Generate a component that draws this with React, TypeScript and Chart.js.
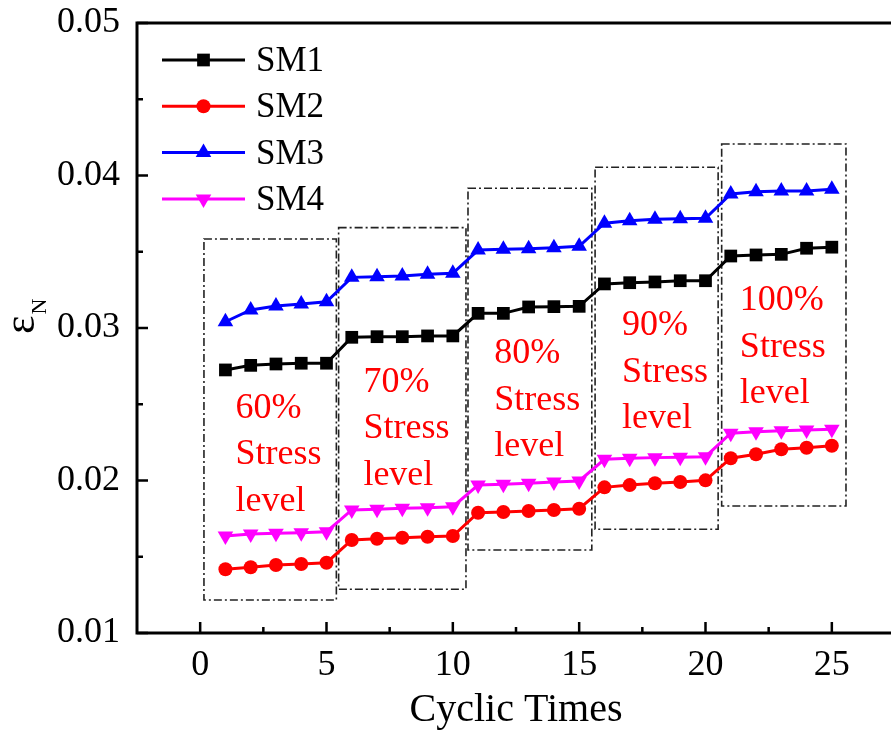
import React, { useEffect, useRef } from "react";
import { Chart, registerables } from "chart.js";

Chart.register(...registerables);

// Cycle index (x) and strain εN for the four specimens
const cycles = [1, 2, 3, 4, 5, 6, 7, 8, 9, 10, 11, 12, 13, 14, 15, 16, 17, 18, 19, 20, 21, 22, 23, 24, 25];
const sm1 = [0.02725, 0.02755, 0.02764, 0.02769, 0.02769, 0.02939, 0.02943, 0.02943, 0.02948, 0.02948, 0.03096, 0.03096, 0.03138, 0.0314, 0.03142, 0.03289, 0.03297, 0.03302, 0.0331, 0.0331, 0.03472, 0.03479, 0.03483, 0.03523, 0.0353];
const sm2 = [0.01418, 0.01431, 0.01446, 0.01452, 0.01461, 0.0161, 0.01618, 0.01625, 0.01631, 0.01636, 0.01789, 0.01793, 0.018, 0.01807, 0.01815, 0.01955, 0.0197, 0.01982, 0.0199, 0.02001, 0.02146, 0.02172, 0.02205, 0.02215, 0.02228];
const sm3 = [0.03041, 0.03118, 0.03144, 0.03157, 0.03172, 0.03332, 0.03336, 0.03341, 0.03352, 0.03359, 0.03511, 0.03516, 0.0352, 0.03526, 0.03536, 0.03687, 0.03704, 0.03713, 0.03717, 0.03719, 0.03879, 0.03894, 0.03898, 0.03898, 0.0391];
const sm4 = [0.01636, 0.01649, 0.01654, 0.01658, 0.01664, 0.01807, 0.01811, 0.01818, 0.01822, 0.01828, 0.0197, 0.01975, 0.01982, 0.0199, 0.01997, 0.02139, 0.02146, 0.0215, 0.02152, 0.02156, 0.0231, 0.0232, 0.02327, 0.02331, 0.02336];

const seriesNames = ["SM1", "SM2", "SM3", "SM4"];

// Axis ticks
const xTickValues = [0, 5, 10, 15, 20, 25];
const xMinorValues = [2.5, 7.5, 12.5, 17.5, 22.5];
const yTickValues = [0.01, 0.02, 0.03, 0.04, 0.05];
const yMinorValues = [0.015, 0.025, 0.035, 0.045];

// Stress-level groups: dash-dot frames (data units) and their captions
const stressLevels = ["60%", "70%", "80%", "90%", "100%"];
const boxLeft = [0.15, 5.48, 10.6, 15.63, 20.64];
const boxRight = [5.39, 10.52, 15.5, 20.5, 25.56];
const boxTop = [0.03584, 0.03658, 0.03916, 0.04054, 0.04207];
const boxBottom = [0.01216, 0.01287, 0.01544, 0.0168, 0.01833];
const captionX = [1.4, 6.46, 11.64, 16.7, 21.36];
const captionY = [0.0241, 0.02582, 0.02769, 0.02954, 0.03118];

const SERIF = '"Liberation Serif", "Times New Roman", serif';
const COLORS = ["#000000", "#ff0000", "#0000ff", "#ff00ff"];

type Marker = { style: string; radius: number; rotation: number };
const MARKERS: Marker[] = [
  { style: "rect", radius: 9, rotation: 0 },
  { style: "circle", radius: 7, rotation: 0 },
  { style: "triangle", radius: 9, rotation: 0 },
  { style: "triangle", radius: 9, rotation: 180 },
];

function drawMarker(ctx: CanvasRenderingContext2D, m: Marker, x: number, y: number, color: string) {
  ctx.save();
  ctx.fillStyle = color;
  ctx.beginPath();
  if (m.style === "rect") {
    const s = Math.SQRT1_2 * m.radius;
    ctx.rect(x - s, y - s, 2 * s, 2 * s);
  } else if (m.style === "circle") {
    ctx.arc(x, y, m.radius, 0, Math.PI * 2);
  } else {
    let rad = (m.rotation * Math.PI) / 180;
    ctx.moveTo(x + Math.sin(rad) * m.radius, y - Math.cos(rad) * m.radius);
    rad += (2 * Math.PI) / 3;
    ctx.lineTo(x + Math.sin(rad) * m.radius, y - Math.cos(rad) * m.radius);
    rad += (2 * Math.PI) / 3;
    ctx.lineTo(x + Math.sin(rad) * m.radius, y - Math.cos(rad) * m.radius);
    ctx.closePath();
  }
  ctx.fill();
  ctx.restore();
}

const stressPlugin = {
  id: "stressBoxes",
  beforeDatasetsDraw(chart: any) {
    const { ctx, scales } = chart;
    const xs = scales.x;
    const ys = scales.y;
    ctx.save();
    ctx.strokeStyle = "#222222";
    ctx.lineWidth = 1.6;
    ctx.setLineDash([8, 3, 2, 3]);
    stressLevels.forEach((_, i) => {
      const l = xs.getPixelForValue(boxLeft[i]);
      const r = xs.getPixelForValue(boxRight[i]);
      const t = ys.getPixelForValue(boxTop[i]);
      const b = ys.getPixelForValue(boxBottom[i]);
      ctx.strokeRect(l, t, r - l, b - t);
    });
    ctx.setLineDash([]);
    ctx.fillStyle = "#ff0000";
    ctx.font = `36px ${SERIF}`;
    ctx.textAlign = "left";
    ctx.textBaseline = "alphabetic";
    stressLevels.forEach((lvl, i) => {
      const x = xs.getPixelForValue(captionX[i]);
      const y = ys.getPixelForValue(captionY[i]);
      [lvl, "Stress", "level"].forEach((line, k) => {
        ctx.fillText(line, x, y + k * 46.5);
      });
    });
    ctx.restore();
  },
};

const framePlugin = {
  id: "frameAndLegend",
  afterDraw(chart: any) {
    const { ctx, chartArea, scales } = chart;
    const { left, right, top, bottom } = chartArea;
    ctx.save();
    // frame
    ctx.strokeStyle = "#000";
    ctx.lineWidth = 3;
    ctx.strokeRect(left, top, right - left, bottom - top);
    // inward ticks
    ctx.lineWidth = 2.5;
    ctx.beginPath();
    xTickValues.forEach((v) => {
      const x = scales.x.getPixelForValue(v);
      ctx.moveTo(x, bottom);
      ctx.lineTo(x, bottom - 11);
    });
    xMinorValues.forEach((v) => {
      const x = scales.x.getPixelForValue(v);
      ctx.moveTo(x, bottom);
      ctx.lineTo(x, bottom - 6);
    });
    yTickValues.forEach((v) => {
      const y = scales.y.getPixelForValue(v);
      ctx.moveTo(left, y);
      ctx.lineTo(left + 11, y);
    });
    yMinorValues.forEach((v) => {
      const y = scales.y.getPixelForValue(v);
      ctx.moveTo(left, y);
      ctx.lineTo(left + 6, y);
    });
    ctx.stroke();

    // legend
    ctx.font = `35px ${SERIF}`;
    ctx.textAlign = "left";
    ctx.textBaseline = "middle";
    seriesNames.forEach((name, i) => {
      const y = top + 37 + i * 46.3;
      const x0 = left + 25;
      const x1 = left + 108;
      ctx.strokeStyle = COLORS[i];
      ctx.lineWidth = 3;
      ctx.beginPath();
      ctx.moveTo(x0, y);
      ctx.lineTo(x1, y);
      ctx.stroke();
      drawMarker(ctx, MARKERS[i], (x0 + x1) / 2, y, COLORS[i]);
      ctx.fillStyle = "#000";
      ctx.fillText(name, left + 119, y + 2);
    });

    // y-axis title: ε with subscript N, rotated
    ctx.translate(34, 334);
    ctx.rotate(-Math.PI / 2);
    ctx.fillStyle = "#000";
    ctx.textBaseline = "alphabetic";
    ctx.font = `44px ${SERIF}`;
    ctx.fillText("ε", 0, 0);
    const w = ctx.measureText("ε").width;
    ctx.font = `22px ${SERIF}`;
    ctx.fillText("N", w + 1, 12);
    ctx.restore();
  },
};

export default function App() {
  const canvasRef = useRef<HTMLCanvasElement | null>(null);

  useEffect(() => {
    if (!canvasRef.current) return;
    const all = [sm1, sm2, sm3, sm4];
    const chart = new Chart(canvasRef.current, {
      type: "line",
      data: {
        datasets: all.map((vals, i) => ({
          label: seriesNames[i],
          data: cycles.map((c, k) => ({ x: c, y: vals[k] })),
          borderColor: COLORS[i],
          backgroundColor: COLORS[i],
          borderWidth: 3,
          tension: 0,
          pointStyle: MARKERS[i].style as any,
          pointRadius: MARKERS[i].radius,
          pointRotation: MARKERS[i].rotation,
          pointBorderWidth: 0,
          pointBackgroundColor: COLORS[i],
          pointHoverRadius: MARKERS[i].radius,
        })),
      },
      options: {
        responsive: false,
        animation: false,
        devicePixelRatio: 1,
        layout: { padding: { top: 23, right: 15, left: 0, bottom: 0 } },
        plugins: { legend: { display: false }, tooltip: { enabled: false } },
        scales: {
          x: {
            type: "linear",
            min: -2.5,
            max: 27.5,
            afterBuildTicks: (s: any) => {
              s.ticks = xTickValues.map((v) => ({ value: v }));
            },
            afterFit: (s: any) => {
              s.height = 103;
              s.paddingLeft = 0;
              s.paddingRight = 0;
            },
            grid: { display: false, drawTicks: false },
            border: { display: false },
            ticks: {
              color: "#000",
              padding: 11,
              maxRotation: 0,
              font: { family: SERIF, size: 36 },
              callback: (v: any) => String(v),
            },
            title: {
              display: true,
              text: "Cyclic Times",
              color: "#000",
              font: { family: SERIF, size: 40 },
              padding: { top: 0, bottom: 2 },
            },
          },
          y: {
            type: "linear",
            min: 0.01,
            max: 0.05,
            afterBuildTicks: (s: any) => {
              s.ticks = yTickValues.map((v) => ({ value: v }));
            },
            afterFit: (s: any) => {
              s.width = 137;
              s.paddingTop = 0;
              s.paddingBottom = 0;
            },
            grid: { display: false, drawTicks: false },
            border: { display: false },
            ticks: {
              color: "#000",
              padding: 17,
              font: { family: SERIF, size: 36 },
              callback: (v: any) => Number(v).toFixed(2),
            },
          },
        },
      },
      plugins: [stressPlugin, framePlugin],
    });
    return () => chart.destroy();
  }, []);

  return (
    <div
      style={{
        position: "absolute",
        left: 0,
        top: 0,
        width: 891,
        height: 736,
        overflow: "hidden",
        background: "#fff",
      }}
    >
      <canvas ref={canvasRef} width={910} height={736} style={{ display: "block" }} />
    </div>
  );
}
